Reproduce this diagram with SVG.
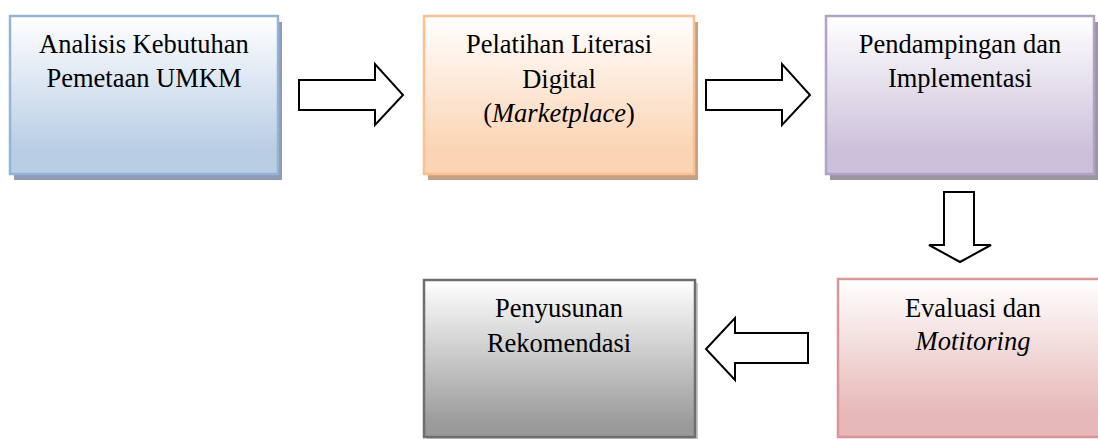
<svg xmlns="http://www.w3.org/2000/svg" width="1098" height="439" viewBox="0 0 1098 439">
  <defs>
    <linearGradient id="gBlue" x1="0" y1="0" x2="0" y2="1">
      <stop offset="0" stop-color="#ffffff"/>
      <stop offset="0.85" stop-color="#b9cde5"/>
      <stop offset="1" stop-color="#b9cde5"/>
    </linearGradient>
    <linearGradient id="gPeach" x1="0" y1="0" x2="0" y2="1">
      <stop offset="0" stop-color="#ffffff"/>
      <stop offset="0.85" stop-color="#fbd4b4"/>
      <stop offset="1" stop-color="#fbd4b4"/>
    </linearGradient>
    <linearGradient id="gLavender" x1="0" y1="0" x2="0" y2="1">
      <stop offset="0" stop-color="#ffffff"/>
      <stop offset="0.85" stop-color="#ccc1da"/>
      <stop offset="1" stop-color="#ccc1da"/>
    </linearGradient>
    <linearGradient id="gRose" x1="0" y1="0" x2="0" y2="1">
      <stop offset="0" stop-color="#ffffff"/>
      <stop offset="0.85" stop-color="#e6b9b8"/>
      <stop offset="1" stop-color="#e6b9b8"/>
    </linearGradient>
    <linearGradient id="gGray" x1="0" y1="0" x2="0" y2="1">
      <stop offset="0" stop-color="#ffffff"/>
      <stop offset="0.9" stop-color="#9c9c9c"/>
      <stop offset="1" stop-color="#989898"/>
    </linearGradient>
  </defs>
  <style>
    text { font-family: "Liberation Serif", "Times New Roman", Times, serif; font-size: 26.5px; fill: #000; text-anchor: middle; }
    .it { font-style: italic; }
    .box { stroke-width: 2.5; }
    .arrow { fill: #ffffff; stroke: #000000; stroke-width: 2; stroke-linejoin: miter; }
  </style>

  <rect width="1098" height="439" fill="#ffffff"/>

  <g id="node-analisis">
    <rect x="14" y="22" width="268" height="158" fill="#8e9db4"/>
    <rect class="box" x="10" y="16" width="268" height="158" fill="url(#gBlue)" stroke="#95b3d7"/>
    <text font-family="Liberation Serif" x="144" y="53">Analisis Kebutuhan</text>
    <text font-family="Liberation Serif" x="144" y="87">Pemetaan UMKM</text>
  </g>

  <g id="node-pelatihan">
    <rect x="428" y="22" width="270" height="158" fill="#c4a184"/>
    <rect class="box" x="424" y="16" width="270" height="158" fill="url(#gPeach)" stroke="#fac090"/>
    <text font-family="Liberation Serif" x="559" y="53">Pelatihan Literasi</text>
    <text font-family="Liberation Serif" x="559" y="88">Digital</text>
    <text font-family="Liberation Serif" x="559" y="122">(<tspan class="it">Marketplace</tspan>)</text>
  </g>

  <g id="node-pendampingan">
    <rect x="830" y="22" width="268" height="158" fill="#9b95a3"/>
    <rect class="box" x="826" y="16" width="268" height="158" fill="url(#gLavender)" stroke="#b2a2c7"/>
    <text font-family="Liberation Serif" x="960" y="53">Pendampingan dan</text>
    <text font-family="Liberation Serif" x="960" y="87">Implementasi</text>
  </g>

  <g id="node-evaluasi">
    <rect class="box" x="838" y="279" width="270" height="158" fill="url(#gRose)" stroke="#d99694"/>
    <text font-family="Liberation Serif" x="973" y="317">Evaluasi dan</text>
    <text font-family="Liberation Serif" class="it" x="973" y="350">Motitoring</text>
  </g>

  <g id="node-penyusunan">
    <rect x="427" y="283" width="271" height="157" fill="#c8c8c8"/>
    <rect class="box" x="424" y="280" width="271" height="157" fill="url(#gGray)" stroke="#6e6e6e"/>
    <text font-family="Liberation Serif" x="559" y="317">Penyusunan</text>
    <text font-family="Liberation Serif" x="559" y="352">Rekomendasi</text>
  </g>

  <g id="connectors">
    <polygon class="arrow" points="299,80 375,80 375,64 403,95 375,125 375,110 299,110"/>
    <polygon class="arrow" points="706,80 782,80 782,64 810,95 782,125 782,110 706,110"/>
    <polygon class="arrow" points="944,192 974,192 974,245 991,245 960,262 929,245 944,245"/>
    <polygon class="arrow" points="808,333 735,333 735,318 706,349 735,380 735,363 808,363"/>
  </g>
</svg>
